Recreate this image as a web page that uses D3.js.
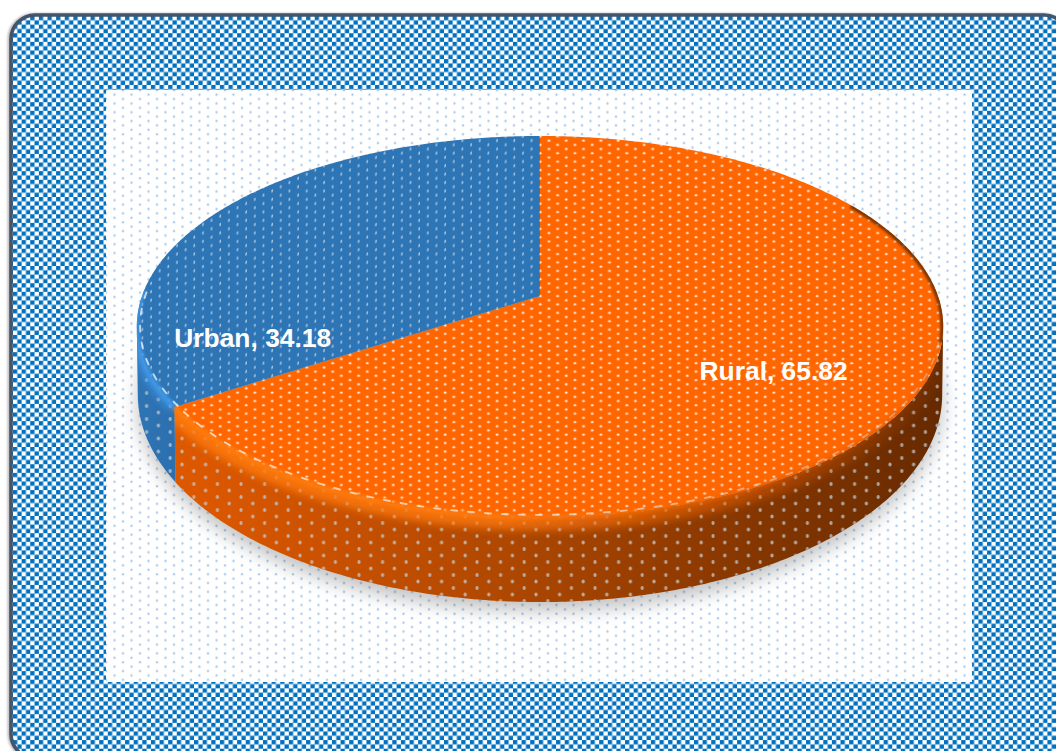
<!DOCTYPE html>
<html><head><meta charset="utf-8">
<script src="https://cdn.jsdelivr.net/npm/d3@7"></script>
<style>html,body{margin:0;padding:0;background:#fff;overflow:hidden}svg{display:block}</style>
</head><body><script>
const categories = ["Rural", "Urban"];
const values = [65.82, 34.18];
const topColors = ["#FF6600", "#2E75B6"];
const labelAngles = [124.5, 252.6];
const labelRadii = [0.669, 0.73];

const W = 1056, H = 751;
const svg = d3.select("body").append("svg").attr("width", W).attr("height", H);
const defs = svg.append("defs");

function pat(id, w, h, draw) {
  const p = defs.append("pattern").attr("id", id).attr("patternUnits", "userSpaceOnUse")
    .attr("width", w).attr("height", h);
  draw(p); return p;
}
pat("checker", 8.62, 8.62, p => {
  p.append("rect").attr("width", 8.62).attr("height", 8.62).attr("fill", "#fff");
  p.append("rect").attr("width", 4.31).attr("height", 4.31).attr("fill", "#0070C0");
  p.append("rect").attr("x", 4.31).attr("y", 4.31).attr("width", 4.31).attr("height", 4.31).attr("fill", "#0070C0");
}).attr("x", 13).attr("y", 16);
pat("bgdots", 17, 8.8, p => {
  [[4, 2.2], [12.5, 6.6]].forEach(([x, y]) => {
    p.append("circle").attr("cx", x).attr("cy", y).attr("r", 1.8).attr("fill", "#9dc3e6").attr("opacity", .22);
    p.append("circle").attr("cx", x).attr("cy", y).attr("r", .95).attr("fill", "#8fbbe6").attr("opacity", .85);
  });
});
pat("topDotsO", 17.3, 8.4, p => {
  [[4, 2], [12.65, 6.2]].forEach(([x, y]) => {
    p.append("ellipse").attr("cx", x).attr("cy", y).attr("rx", 2).attr("ry", 1.6).attr("fill", "#fff").attr("opacity", .25);
    p.append("ellipse").attr("cx", x).attr("cy", y).attr("rx", 1.15).attr("ry", .9).attr("fill", "#fff").attr("opacity", .85);
  });
});
pat("topDotsB", 17.3, 8.4, p => {
  [[4, 2], [12.65, 6.2]].forEach(([x, y]) => {
    p.append("ellipse").attr("cx", x).attr("cy", y).attr("rx", .8).attr("ry", 1.7)
      .attr("transform", `rotate(12 ${x} ${y})`).attr("fill", "#fff").attr("opacity", .6);
  });
});
pat("wallDots", 23.6, 13, p => {
  [[5, 3], [16.8, 9.5]].forEach(([x, y]) => {
    p.append("ellipse").attr("cx", x).attr("cy", y).attr("rx", 1.6).attr("ry", 2).attr("fill", "#c4ccd4").attr("opacity", .75);
  });
});

function grad(id, stops) {
  const g = defs.append("linearGradient").attr("id", id).attr("gradientUnits", "userSpaceOnUse")
    .attr("x1", 136).attr("x2", 942).attr("y1", 0).attr("y2", 0);
  stops.forEach(([o, c, a]) => g.append("stop").attr("offset", o).attr("stop-color", c).attr("stop-opacity", a === undefined ? 1 : a));
}
grad("wallO", [[0, "#E05A00"], [.1, "#DA5700"], [.45, "#B04800"], [.7, "#8E3A00"], [.9, "#743000"], [1, "#662A00"]]);
grad("wallB", [[0, "#2E74B4"], [.06, "#2C6EAD"], [1, "#2C6EAD"]]);
grad("rimO", [[0, "#FF7C10", 1], [.45, "#FF7A10", .95], [.75, "#E86000", .6], [1, "#B04800", .1]]);
grad("rimB", [[0, "#3F97E6", 1], [1, "#3F97E6", 1]]);
grad("streak", [[0, "#fff", .7], [.5, "#fff", .6], [.85, "#ddd", .5], [1, "#ddd", .35]]);

const blur = (id, s) => defs.append("filter").attr("id", id)
  .attr("x", "-20%").attr("y", "-20%").attr("width", "140%").attr("height", "140%")
  .append("feGaussianBlur").attr("stdDeviation", s);
blur("b1", 1); blur("b3", 4.5); blur("b8", 9); blur("bf", 1.6); blur("bs", .45);

// perspective projection of the unit disc
const ax = 540, ay = 296, R = 398, S = 185.6, K = 0.16;
function proj(a, r = 1) {
  const u = r * Math.sin(a), v = r * Math.cos(a), w = 1 + K * v;
  return [ax + R * u / w, ay - S * v / w];
}
function projBottom(a) {
  const [x, y] = proj(a);
  return [539 + 402 * (x - 539) / 403, 394 + 207 * (y - 326) / 190];
}
const line = d3.line();
const rad = d => d * Math.PI / 180;
function samples(a0, a1) {
  const n = Math.max(2, Math.ceil(Math.abs(a1 - a0) / 0.01));
  return d3.range(n + 1).map(i => a0 + (a1 - a0) * i / n);
}

const arcs = d3.pie().sort(null).value(d => d)(values);

// frame
const frame = { x: 11, y: 15, w: 1057, h: 743, r: 24 };
svg.append("rect").attr("x", frame.x - 1.5).attr("y", frame.y).attr("width", frame.w).attr("height", frame.h)
  .attr("rx", frame.r).attr("fill", "none").attr("stroke", "#bbb").attr("stroke-width", 4).attr("filter", "url(#b1)");
svg.append("rect").attr("x", frame.x).attr("y", frame.y).attr("width", frame.w).attr("height", frame.h)
  .attr("rx", frame.r).attr("fill", "url(#checker)").attr("stroke", "#44546A").attr("stroke-width", 3.6);

// plot panel
svg.append("rect").attr("x", 106).attr("y", 90).attr("width", 866).attr("height", 592).attr("fill", "#fff");
svg.append("rect").attr("x", 106).attr("y", 90).attr("width", 866).attr("height", 592).attr("fill", "url(#bgdots)");
defs.append("clipPath").attr("id", "panel").append("rect").attr("x", 106).attr("y", 90).attr("width", 866).attr("height", 592);

// shadow
const whole = samples(0, Math.PI * 2);
svg.append("g").attr("clip-path", "url(#panel)").append("path")
  .attr("d", line(whole.map(a => { const [x, y] = projBottom(a); return [x, y + 9]; })) + "Z")
  .attr("fill", "#000").attr("opacity", .24).attr("filter", "url(#b8)");

// side walls: only the part that faces the viewer, between the silhouette tangents
const tangentR = Math.PI - Math.acos(K), tangentL = Math.PI + Math.acos(K);
const wallFill = ["url(#wallO)", "url(#wallB)"];
const rimFill = ["url(#rimO)", "url(#rimB)"];
const g = svg.append("g");
arcs.forEach((d, i) => {
  const s = samples(Math.max(d.startAngle, tangentR), Math.min(d.endAngle, tangentL));
  const wall = line(s.map(a => proj(a)).concat(s.slice().reverse().map(projBottom))) + "Z";
  defs.append("clipPath").attr("id", "wc" + i).append("path").attr("d", wall);
  g.append("path").attr("d", wall).attr("fill", wallFill[i]);
  g.append("path").attr("d", wall).attr("fill", "url(#wallDots)");
});
// front rim glow on the walls
arcs.forEach((d, i) => {
  const s = samples(Math.max(d.startAngle, rad(75)), Math.min(d.endAngle, rad(285)));
  g.append("g").attr("clip-path", `url(#wc${i})`).append("path")
    .attr("d", line(s.map(a => proj(a)))).attr("fill", "none").attr("stroke", rimFill[i])
    .attr("stroke-width", i ? 12 : 26).attr("opacity", .85).attr("filter", "url(#b3)");
});

// top faces
arcs.forEach((d, i) => {
  const s = samples(d.startAngle, d.endAngle);
  const top = line([[ax, ay]].concat(s.map(a => proj(a)))) + "Z";
  g.append("path").attr("d", top).attr("fill", topColors[i]);
  g.append("path").attr("d", top).attr("fill", i ? "url(#topDotsB)" : "url(#topDotsO)");
});

// bevel on the rim, kept inside the pie's outline
defs.append("clipPath").attr("id", "topClip").append("path").attr("d", line(whole.map(a => proj(a))) + "Z");
const sil = svg.select("defs").append("clipPath").attr("id", "silClip");
sil.append("path").attr("d", line(whole.map(a => proj(a))) + "Z");
sil.append("path").attr("d", line(samples(tangentR, tangentL).map(a => proj(a)).concat(samples(tangentR, tangentL).reverse().map(projBottom))) + "Z");
const bevel = g.append("g").attr("clip-path", "url(#silClip)");
g.append("g").attr("clip-path", "url(#topClip)").append("path")
  .attr("d", line(samples(rad(58), rad(104)).map(a => proj(a))))
  .attr("fill", "none").attr("stroke", "#6B2D00").attr("stroke-width", 6).attr("opacity", .85).attr("filter", "url(#b1)");
arcs.forEach((d, i) => {
  const s = samples(Math.max(d.startAngle, rad(104)), Math.min(d.endAngle, rad(272)));
  const rim = line(s.map(a => proj(a)));
  bevel.append("path").attr("d", rim).attr("fill", "none").attr("stroke", i ? "#3F97E6" : "url(#rimO)")
    .attr("stroke-width", 6).attr("opacity", .8).attr("filter", "url(#bf)");
  bevel.append("path").attr("d", line(s.map(a => proj(a, 0.992)))).attr("fill", "none").attr("stroke", "url(#streak)")
    .attr("stroke-width", 1.9).attr("stroke-dasharray", "6 11").attr("stroke-linecap", "round").attr("filter", "url(#bs)");
});

// labels
svg.append("g").selectAll("text").data(categories).join("text")
  .attr("x", (d, i) => proj(rad(labelAngles[i]), labelRadii[i])[0])
  .attr("y", (d, i) => proj(rad(labelAngles[i]), labelRadii[i])[1])
  .attr("text-anchor", "middle").attr("dominant-baseline", "central")
  .attr("font-family", "'Liberation Sans', Arial, sans-serif").attr("font-weight", 700)
  .attr("font-size", 26.4).attr("fill", "#fff")
  .text((d, i) => `${d}, ${values[i]}`);
</script></body></html>
